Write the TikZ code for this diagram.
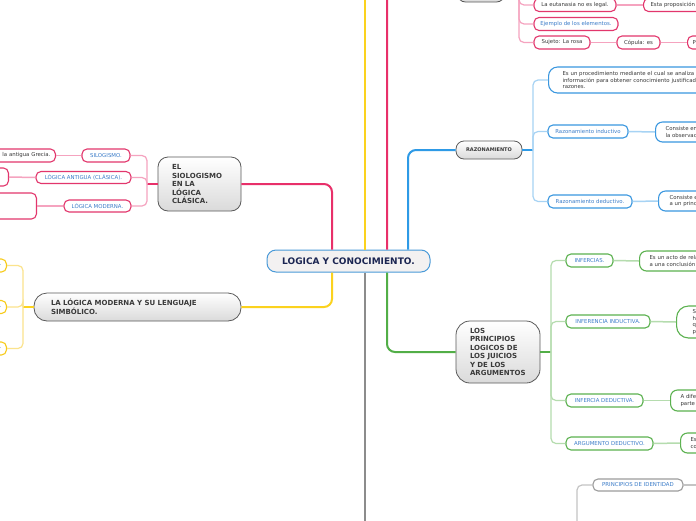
\documentclass[tikz,border=0pt]{standalone}
\usepackage{fontspec}
\setmainfont{DejaVu Sans}
\usetikzlibrary{calc}
\definecolor{pinkM}{HTML}{E8306A}
\definecolor{pinkL}{HTML}{F5A3BF}
\definecolor{pinkB}{HTML}{E2366C}
\definecolor{yelM}{HTML}{FBD21E}
\definecolor{yelL}{HTML}{FBE38C}
\definecolor{yelB}{HTML}{F7CB1A}
\definecolor{blueM}{HTML}{2E9AE6}
\definecolor{blueL}{HTML}{A7D3F4}
\definecolor{blueB}{HTML}{3A97DF}
\definecolor{greenM}{HTML}{52AE47}
\definecolor{greenL}{HTML}{B5DCAE}
\definecolor{greenB}{HTML}{5BB14F}
\definecolor{grayM}{HTML}{8C8C8C}
\definecolor{grayL}{HTML}{C4C4C4}
\definecolor{grayB}{HTML}{9C9C9C}
\definecolor{txtdark}{HTML}{3A3A3A}
\definecolor{txtblue}{HTML}{3C7DC9}
\definecolor{navy}{HTML}{1B2552}
\definecolor{rootbd}{HTML}{4A9AD8}
\definecolor{rootfill}{HTML}{F3F1F1}
\definecolor{mainbd}{HTML}{5A5A5A}
\definecolor{mainbot}{HTML}{DADADA}
\tikzset{
  leaf/.style={draw=#1, line width=1.1pt, rounded corners=5pt, fill=white,
    font=\fontsize{5.4}{6.5}\selectfont, text=txtdark, inner sep=0pt},
  lbl/.style={text=txtblue},
  mainbox/.style={draw=mainbd, line width=0.8pt, rounded corners=10pt,
    top color=white, bottom color=mainbot, text=txtdark,
    font=\bfseries\fontsize{7}{8.5}\selectfont, align=left, inner sep=0pt},
  rootbox/.style={draw=rootbd, line width=1pt, fill=rootfill, rounded corners=9pt,
    font=\bfseries\fontsize{9}{10}\selectfont, text=navy, inner sep=0pt},
  trunk/.style={draw=#1, line width=2pt, rounded corners=8pt},
  stem/.style={draw=#1, line width=1.5pt},
  twig/.style={draw=#1, line width=1.2pt, rounded corners=5pt},
  link/.style={draw=#1, line width=1.5pt},
}
\begin{document}
\begin{tikzpicture}[x=1pt,y=-1pt]
\useasboundingbox (0,0) rectangle (696,520);
\clip (0,0) rectangle (696,520);
\fill[white] (0,0) rectangle (696,520);

% ---------- nodes ----------
\node[rootbox, minimum width=163pt, minimum height=22pt] (root) at (348.5,261) {LOGICA Y CONOCIMIENTO.};

% top pink branch
\node[mainbox, rounded corners=8pt, minimum width=47pt, minimum height=20pt] (tp) at (481,-8) {};
\node[leaf=pinkB, minimum width=82pt, minimum height=13pt] (eut) at (575,5) {La eutanasia no es legal.};
\node[leaf=pinkB, anchor=west, minimum height=13pt, text width=70pt, align=left, inner xsep=7pt] (prop) at (643,5) {Esta proposición};
\node[leaf=pinkB, lbl, minimum width=84pt, minimum height=13pt] (ejem) at (576,24) {Ejemplo de los elementos.};
\node[leaf=pinkB, minimum width=56pt, minimum height=13pt] (suj) at (562,42.5) {Sujeto: La rosa};
\node[leaf=pinkB, minimum width=43pt, minimum height=13pt] (cop) at (638.5,42.5) {Cópula: es};
\node[leaf=pinkB, anchor=west, minimum height=13pt, text width=30pt, align=left, inner xsep=5pt] (pred) at (687,42.5) {P};

% left pink branch
\node[mainbox, minimum height=54pt, text width=55pt, inner xsep=14pt] (siolo) at (199.5,184) {EL\\SIOLOGISMO\\EN LA\\LÓGICA\\CLÁSICA.};
\node[leaf=pinkB, lbl, minimum width=48pt, minimum height=13pt] (silog) at (106,155.5) {SILOGISMO.};
\node[leaf=pinkB, lbl, minimum width=95pt, minimum height=12pt] (antig) at (83.5,177.5) {LÓGICA ANTIGUA (CLÁSICA).};
\node[leaf=pinkB, lbl, minimum width=67pt, minimum height=12pt] (moder) at (97.5,206) {LÓGICA MODERNA.};
\node[leaf=pinkB, anchor=east, minimum height=13pt, text width=80pt, align=right, inner xsep=5pt] (grecia) at (56,155.5) {la antigua Grecia.};
\node[leaf=pinkB, anchor=east, minimum width=40pt, minimum height=18pt] (antigG) at (9,177) {};
\node[leaf=pinkB, anchor=east, minimum width=60pt, minimum height=26pt] (moderG) at (37,206) {};

% left yellow branch
\node[mainbox, rounded corners=13pt, minimum height=28pt, text width=173pt, inner xsep=17pt, font=\bfseries\fontsize{7}{9.5}\selectfont] (lmod) at (137.5,307) {LA LÓGICA MODERNA Y SU LENGUAJE\\SIMBÓLICO.};
\node[leaf=yelB, lbl, anchor=east, minimum height=13pt, text width=30pt, align=right, inner xsep=5pt] (ya) at (7,265.5) {.};
\node[leaf=yelB, lbl, anchor=east, minimum height=13pt, text width=30pt, align=right, inner xsep=5pt] (yb) at (7,307) {.};
\node[leaf=yelB, lbl, anchor=east, minimum height=13pt, text width=30pt, align=right, inner xsep=5pt] (yc) at (7,348.5) {.};

% blue branch
\node[mainbox, rounded corners=8pt, minimum width=66pt, minimum height=18pt, align=center, font=\bfseries\fontsize{5}{6}\selectfont] (razon) at (489,150) {RAZONAMIENTO};
\node[leaf=blueB, anchor=west, minimum height=26pt, text width=200pt, align=left, inner xsep=14pt, rounded corners=9pt] (rdef) at (548,80) {Es un procedimiento mediante el cual se analiza la\\información para obtener conocimiento justificado con\\razones.};
\node[leaf=blueB, lbl, minimum width=80pt, minimum height=13pt] (rind) at (588,131.5) {Razonamiento inductivo};
\node[leaf=blueB, anchor=west, minimum height=20pt, text width=60pt, align=left, inner xsep=10pt, rounded corners=7pt] (rindD) at (655,132) {Consiste en\\la observación};
\node[leaf=blueB, lbl, minimum width=84pt, minimum height=13pt] (rded) at (590,201.5) {Razonamiento deductivo.};
\node[leaf=blueB, anchor=west, minimum height=20pt, text width=60pt, align=left, inner xsep=11pt, rounded corners=7pt] (rdedD) at (658,201) {Consiste en\\a un principio};

% green branch
\node[mainbox, rounded corners=14pt, minimum height=62pt, text width=56pt, inner xsep=14pt] (princ) at (498,352) {LOS\\PRINCIPIOS\\LOGICOS DE\\LOS JUICIOS\\Y DE LOS\\ARGUMENTOS};
\node[leaf=greenB, lbl, minimum width=47pt, minimum height=13pt] (inf) at (589.5,260.5) {INFERCIAS.};
\node[leaf=greenB, anchor=west, minimum height=20pt, text width=80pt, align=left, inner xsep=10pt, rounded corners=7pt] (infD) at (639,261) {Es un acto de relacionar\\a una conclusión};
\node[leaf=greenB, lbl, minimum width=84pt, minimum height=13pt] (infi) at (608,321.5) {INFERENCIA INDUCTIVA.};
\node[leaf=greenB, anchor=west, minimum height=32pt, text width=30pt, align=left, inner xsep=16pt, rounded corners=12pt] (infiD) at (676,322) {S\\h\\q\\p};
\node[leaf=greenB, lbl, minimum width=77pt, minimum height=13pt] (infd) at (604.5,400.5) {INFERCIA DEDUCTIVA.};
\node[leaf=greenB, anchor=west, minimum height=21pt, text width=50pt, align=left, inner xsep=10pt, rounded corners=7pt] (infdD) at (670,400.5) {A diferencia\\parte};
\node[leaf=greenB, lbl, minimum width=87pt, minimum height=13pt] (argd) at (609.5,443.5) {ARGUMENTO DEDUCTIVO.};
\node[leaf=greenB, anchor=west, minimum height=20pt, text width=40pt, align=left, inner xsep=10pt, rounded corners=7pt] (argdD) at (680,443) {Es\\co};

% gray branch
\node[leaf=grayB, lbl, minimum width=90pt, minimum height=12pt] (pid) at (638,485) {PRINCIPIOS DE IDENTIDAD};

% ---------- coordinates ----------
\coordinate (xa) at (332,0);
\coordinate (xb) at (365,0);
\coordinate (xc) at (387,0);
\coordinate (xd) at (408,0);
\coordinate (topY) at (365,-30);
\coordinate (botG) at (365,560);
\coordinate (bT) at (519,-8);
\coordinate (bS) at (147,184);
\coordinate (bY) at (23,307);
\coordinate (bR) at (533,150);
\coordinate (bP) at (551,352);
\coordinate (gbr) at (577,560);
\coordinate (gD) at (720,485);

% ---------- trunks ----------
\draw[trunk=yelM] (root.north -| xb) -- (topY);
\draw[trunk=grayM] (root.south -| xb) -- (botG);
\draw[trunk=pinkM] (root.north -| xa) |- (siolo.east);
\draw[trunk=yelM] (root.south -| xa) |- (lmod.east);
\draw[trunk=pinkM] (root.north -| xc) |- (tp.west);
\draw[trunk=blueM] (root.north -| xd) |- (razon.west);
\draw[trunk=greenM] (root.south -| xc) |- (princ.west);

% ---------- top pink ----------
\draw[stem=pinkM] (tp.east) -- (bT);
\foreach \c in {eut,ejem,suj} \draw[twig=pinkL] (bT) |- (\c.west);
\draw[link=pinkL] (eut.east) -- (prop.west);
\draw[link=pinkL] (suj.east) -- (cop.west);
\draw[link=pinkL] (cop.east) -- (pred.west);

% ---------- left pink ----------
\draw[stem=pinkM] (siolo.west) -- (bS);
\foreach \c in {silog,antig,moder} \draw[twig=pinkL] (bS) |- (\c.east);
\draw[link=pinkL] (silog.west) -- (grecia.east);
\draw[link=pinkL] (antig.west) -- (antigG.east);
\draw[link=pinkL] (moder.west) -- (moderG.east);

% ---------- left yellow ----------
\draw[stem=yelM] (lmod.west) -- (bY);
\foreach \c in {ya,yb,yc} \draw[twig=yelL] (bY) |- (\c.east);

% ---------- blue ----------
\draw[stem=blueM] (razon.east) -- (bR);
\foreach \c in {rdef,rind,rded} \draw[twig=blueL] (bR) |- (\c.west);
\draw[link=blueL] (rind.east) -- (rindD.west);
\draw[link=blueL] (rded.east) -- (rdedD.west);

% ---------- green ----------
\draw[stem=greenM] (princ.east) -- (bP);
\foreach \c in {inf,infi,infd,argd} \draw[twig=greenL] (bP) |- (\c.west);
\draw[link=greenL] (inf.east) -- (infD.west);
\draw[link=greenL] (infi.east) -- (infiD.west);
\draw[link=greenL] (infd.east) -- (infdD.west);
\draw[link=greenL] (argd.east) -- (argdD.west);

% ---------- gray ----------
\draw[twig=grayL] (gbr) |- (pid.west);
\draw[link=grayL] (pid.east) -- (gD);
\end{tikzpicture}
\end{document}
